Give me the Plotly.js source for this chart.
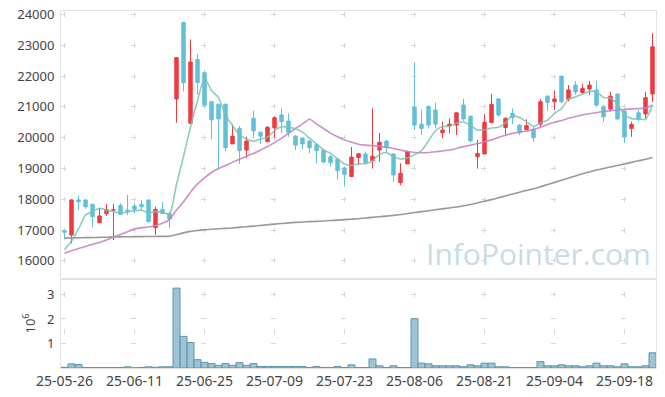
<!DOCTYPE html>
<html><head><meta charset="utf-8">
<script src="https://cdn.plot.ly/plotly-3.0.1.min.js"></script>
<style>html,body{margin:0;padding:0;background:#fff}#chart{width:665px;height:397px}</style>
</head><body><div id="chart"></div>
<script>
const dates = [
'25-05-26','25-05-27','25-05-28','25-05-29','25-05-30',
'25-06-02','25-06-04','25-06-05','25-06-09','25-06-10','25-06-11','25-06-12','25-06-13','25-06-16','25-06-17','25-06-18','25-06-19','25-06-20','25-06-23','25-06-24','25-06-25','25-06-26','25-06-27','25-06-30',
'25-07-01','25-07-02','25-07-03','25-07-04','25-07-07','25-07-08','25-07-09','25-07-10','25-07-11','25-07-14','25-07-15','25-07-16','25-07-17','25-07-18','25-07-21','25-07-22','25-07-23','25-07-24','25-07-25','25-07-28','25-07-29','25-07-30','25-07-31',
'25-08-01','25-08-04','25-08-05','25-08-06','25-08-07','25-08-08','25-08-11','25-08-12','25-08-13','25-08-14','25-08-18','25-08-19','25-08-20','25-08-21','25-08-22','25-08-25','25-08-26','25-08-27','25-08-28','25-08-29',
'25-09-01','25-09-02','25-09-03','25-09-04','25-09-05','25-09-08','25-09-09','25-09-10','25-09-11','25-09-12','25-09-15','25-09-16','25-09-17','25-09-18','25-09-19','25-09-22','25-09-23','25-09-24'];

const openP = [16980,16840,17980,17980,17840,17240,17540,17650,17800,17650,17780,17830,17980,17080,17670,17540,
21260,23740,20470,22540,22110,21170,21090,21090,19800,20300,19600,20630,20180,19870,20320,20740,20540,20050,19990,19890,19770,19600,19380,19310,19020,18740,19360,19470,19250,19600,19890,19470,18540,19150,
20990,20440,21010,20900,20160,20380,20410,21060,20700,19380,19470,20490,21260,20330,20790,20410,20270,20270,20440,21350,21170,22000,21250,21710,21470,21580,21550,21010,20930,21420,20870,20300,20810,20770,21420];
const highP = [17000,18000,18110,17990,17850,17710,17850,17850,17870,18140,17870,17980,17990,17760,17920,17600,
22610,23770,23190,22720,22180,21170,21100,21100,20430,20380,20030,20880,20200,20380,20700,20950,20790,20090,20010,19930,19800,19610,19440,19330,19030,19700,19490,19550,20950,20160,19930,19490,19170,19580,
22450,20920,21050,21140,20520,20630,20810,21260,20710,19930,20770,21420,21280,20660,20950,20440,20600,20360,21250,21370,21530,22000,21710,21840,21740,21840,21840,21060,21490,21420,20870,20520,20900,21490,23390];
const lowP = [16700,16570,17650,17700,17090,17240,17460,16680,17490,17490,17540,17650,17270,16840,17520,17060,
20490,21500,20470,21390,21000,19950,18970,19570,19800,19150,19330,19980,19800,19870,20000,20160,20030,19600,19630,19490,19170,19170,19060,18650,18410,18740,19110,19170,19000,19220,19510,18570,18460,19150,
20250,20090,20300,20300,19980,20140,20090,20550,19840,19000,19470,20490,20680,20090,20440,20090,20230,19870,20360,20880,20900,21120,21170,21390,21410,21390,20990,20520,20850,20560,19840,20030,20550,20630,21170];
const closeP = [16930,17980,17920,17760,17440,17460,17670,17670,17510,17610,17670,17760,17270,17670,17540,17360,
22600,21790,22460,21790,21060,20580,20610,19680,20050,19580,19890,20220,20050,20340,20650,20520,20170,19760,19800,19680,19580,19210,19190,18930,18810,19370,19480,19190,19400,19850,19680,18790,18840,19550,
20410,20300,20410,20440,20250,20440,20810,20610,19900,19490,20500,21080,20740,20630,20660,20160,20390,20000,21170,21140,21260,21170,21550,21490,21600,21710,21060,20680,21350,20610,20030,20430,20600,21300,22950];

const ma5 = [16360,16650,17030,17490,17600,17710,17650,17600,17550,17585,17630,17645,17565,17600,17585,17520,
18490,19395,20350,21200,21940,21535,21300,20740,20395,20100,19960,19885,19960,20015,20230,20355,20345,20290,20180,19985,19800,19605,19490,19315,19145,19100,19155,19155,19250,19460,19520,19380,19310,19340,
19450,19580,19900,20225,20365,20370,20470,20510,20405,20250,20260,20315,20340,20485,20720,20655,20515,20370,20475,20570,20790,20945,21255,21320,21415,21505,21485,21310,21280,21080,20745,20620,20605,20595,21065];
const ma20 = [16250,16330,16400,16470,16540,16600,16680,16780,16860,16950,17040,17080,17100,17150,17220,17340,
17650,17920,18230,18500,18700,18870,19000,19100,19200,19300,19400,19490,19600,19710,19840,19980,20140,20300,20450,20600,20450,20300,20150,20030,19930,19850,19790,19760,19740,19720,19690,19650,19600,19550,
19520,19510,19520,19545,19570,19600,19650,19710,19760,19810,19870,19930,20010,20080,20140,20180,20220,20270,20340,20430,20500,20560,20630,20690,20740,20780,20820,20850,20880,20900,20920,20935,20945,20960,21060];
const ma60 = [16740,16745,16750,16755,16760,16765,16770,16775,16780,16785,16788,16790,16792,16795,16797,16800,
16850,16910,16960,16990,17010,17030,17045,17055,17070,17090,17110,17130,17150,17175,17195,17215,17235,17250,17265,17275,17285,17295,17310,17325,17340,17355,17370,17395,17415,17435,17455,17478,17505,17540,
17570,17600,17630,17660,17690,17720,17750,17790,17830,17880,17940,17990,18050,18110,18170,18230,18290,18345,18410,18480,18550,18620,18690,18760,18830,18890,18950,19000,19050,19100,19150,19200,19250,19300,19360];

// volume in millions of shares
const volume = [0.03,0.17,0.14,0.02,0.02,0.02,0.02,0.02,0.02,0.05,0.005,0.02,0.05,0.03,0.05,0.05,
3.26,1.29,1.04,0.34,0.23,0.18,0.11,0.18,0.11,0.22,0.11,0.18,0.06,0.06,0.06,0.06,0.06,0.06,0.06,0.02,0.06,0.02,0.02,0.06,0.02,0.13,0.02,0.02,0.37,0.09,0.02,0.09,0.02,0.02,
2.01,0.20,0.17,0.09,0.09,0.09,0.09,0.05,0.13,0.09,0.20,0.20,0.05,0.05,0.02,0.02,0.02,0.02,0.26,0.09,0.09,0.13,0.09,0.09,0.05,0.09,0.20,0.09,0.09,0.05,0.17,0.05,0.05,0.09,0.62];

const priceTicks = [16000,17000,18000,19000,20000,21000,22000,23000,24000];
const volTicks = [1,2,3];
const xTickVals = dates.filter((d,i)=>i%10===0);

const UP='#ef3b40', DOWN='#63bfda';
const traces = [
  {type:'candlestick', x:dates, open:openP, high:highP, low:lowP, close:closeP, xaxis:'x', yaxis:'y',
   increasing:{line:{color:UP,width:1}, fillcolor:UP}, decreasing:{line:{color:DOWN,width:1}, fillcolor:DOWN},
   whiskerwidth:0, hoverinfo:'skip'},
  {type:'scatter', mode:'lines', x:dates, y:ma60, xaxis:'x', yaxis:'y', line:{color:'#999999', width:1.6, shape:'spline', smoothing:0.6}, hoverinfo:'skip'},
  {type:'scatter', mode:'lines', x:dates, y:ma20, xaxis:'x', yaxis:'y', line:{color:'rgba(200,130,195,0.9)', width:1.6, shape:'spline', smoothing:0.6}, hoverinfo:'skip'},
  {type:'scatter', mode:'lines', x:dates, y:ma5, xaxis:'x', yaxis:'y', line:{color:'rgba(120,195,178,0.85)', width:1.6, shape:'spline', smoothing:0.6}, hoverinfo:'skip'},
  {type:'bar', x:dates, y:volume, xaxis:'x2', yaxis:'y2', marker:{color:'rgba(140,184,204,0.85)', line:{color:'#5e95ae', width:1}}, hoverinfo:'skip'}
];

const GRID='#d8d8d8', LINE='#e3e3e3';
const layout = {
  width:665, height:397,
  margin:{l:61, r:9, t:11, b:29},
  paper_bgcolor:'#ffffff', plot_bgcolor:'#ffffff',
  showlegend:false, bargap:0, boxgap:0.3,
  font:{family:'Noto Sans, sans-serif', size:13, color:'#444'},
  xaxis:{type:'category', anchor:'y', domain:[0,1], range:[-0.5,84.5], tickvals:xTickVals, showticklabels:false,
         ticks:'', showgrid:true, gridcolor:GRID, gridwidth:1, griddash:'0px,1px,5px,24.8px',
         showline:true, mirror:true, linecolor:LINE, linewidth:1, rangeslider:{visible:false}, fixedrange:true},
  yaxis:{domain:[0.2493,1], range:[15413,24114], tickvals:priceTicks, tickformat:'d', ticks:'outside', ticklen:3, tickcolor:'rgba(0,0,0,0)',
         showgrid:true, gridcolor:GRID, gridwidth:1, griddash:'5px,65px', zeroline:false,
         showline:true, mirror:true, linecolor:LINE, linewidth:1, tickfont:{size:13, color:'#444'}},
  xaxis2:{type:'category', anchor:'y2', domain:[0,1], range:[-0.5,84.5], tickvals:xTickVals, ticktext:xTickVals,
          ticks:'', showgrid:true, gridcolor:GRID, gridwidth:1, griddash:'0px,13px,5px,19.5px',
          showline:true, mirror:true, linecolor:LINE, linewidth:1, tickfont:{size:14, color:'#444'}, tickangle:0},
  yaxis2:{domain:[0,0.2493], range:[0,3.633], tickvals:volTicks, tickformat:'d', ticks:'outside', ticklen:3, tickcolor:'rgba(0,0,0,0)',
          showgrid:true, gridcolor:GRID, gridwidth:1, griddash:'5px,65px', zeroline:false,
          showline:true, mirror:true, linecolor:LINE, linewidth:1, tickfont:{size:13, color:'#444'},
          title:{text:'10<sup>6</sup>', font:{size:13, color:'#444'}, standoff:8}},
  annotations:[{text:'InfoPointer.com', xref:'paper', yref:'paper', x:0.8025, y:0.321, xanchor:'center', yanchor:'middle',
    showarrow:false, font:{family:'Open Sans, Noto Sans, sans-serif', size:30, color:'#c8dce6'}}]
};
Plotly.newPlot('chart', traces, layout, {staticPlot:true, displayModeBar:false});
</script></body></html>
